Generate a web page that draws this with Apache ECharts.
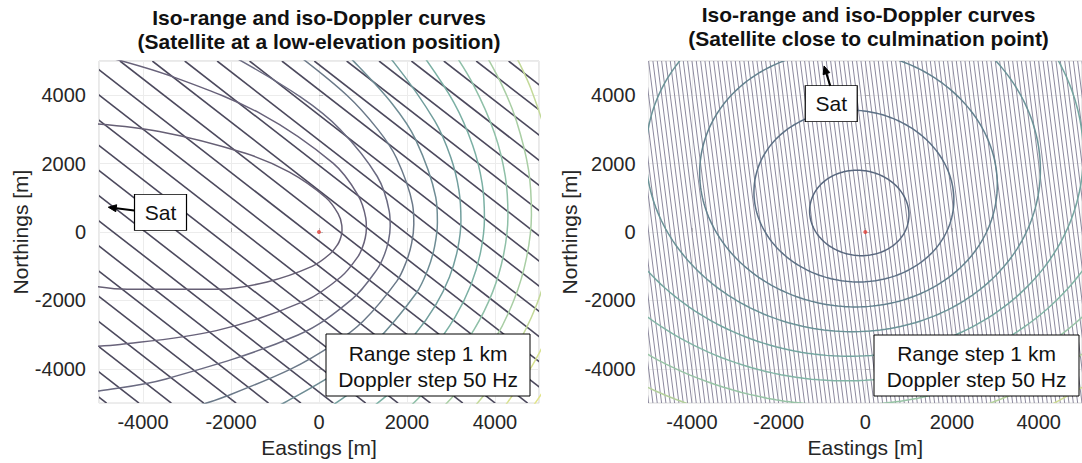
<!DOCTYPE html>
<html><head><meta charset="utf-8">
<script src="https://cdn.jsdelivr.net/npm/echarts@6/dist/echarts.min.js"></script>
<style>html,body{margin:0;padding:0;background:#fff}#c{width:1082px;height:463px}</style>
</head><body><div id="c"></div>
<script>
// ---------------- DATA (metres, local East/North) ----------------
const axisMin = -5000, axisMax = 5000;
const titles = ['Iso-range and iso-Doppler curves\n(Satellite at a low-elevation position)',
                'Iso-range and iso-Doppler curves\n(Satellite close to culmination point)'];
const xName = 'Eastings [m]', yName = 'Northings [m]';
const legendText = 'Range step 1 km\nDoppler step 50 Hz';
const satLabel = 'Sat';

// Left panel, iso-Doppler lines: Easting where each line meets Northing +5000 and Northing -5000
const leftDopplerTopX = [-14827,-14091,-13355,-12619,-11883,-11147,-10411,-9675,-8939,-8203,-7467,-6731,-5995,-5259,-4523,-3787,-3051,-2315,-1579,-843,-107,629,1365,2101,2837,3573,4309];
const leftDopplerBottomX = [-4827,-4091,-3355,-2619,-1883,-1147,-411,325,1061,1797,2533,3269,4005,4741,5477,6213,6949,7685,8421,9157,9893,10629,11365,12101,12837,13573,14309];

// Left panel, iso-range curves (1 km apart), points [E, N]
const leftRangeCurves = [
 [[-5302,3186],[-3630,2940],[-1672,2301],[-672,1751],[159,1004],[434,536],[518,199],[523,55],[510,-81],[480,-214],[431,-349],[247,-643],[-159,-1004],[-1180,-1458],[-2301,-1672],[-4361,-1674],[-5353,-1535]],
 [[-4752,5096],[-3285,4522],[-1329,3461],[319,2013],[882,1089],[1063,408],[1077,113],[1052,-167],[989,-441],[885,-717],[502,-1308],[-319,-2013],[-2333,-2881],[-4522,-3285],[-5597,-3363]],
 [[-1980,5157],[-415,3945],[476,3008],[1321,1631],[1596,613],[1618,170],[1580,-250],[1486,-662],[1328,-1076],[752,-1960],[-476,-3008],[-3476,-4293],[-4973,-4638],[-5916,-4791]],
 [[-551,5243],[633,3999],[1336,3001],[1758,2171],[2125,816],[2155,226],[2105,-333],[1979,-881],[1769,-1433],[1001,-2608],[343,-3267],[-633,-3999],[-2144,-4816],[-2831,-5108]],
 [[382,5466],[790,4989],[1667,3745],[2194,2710],[2653,1019],[2691,283],[2628,-416],[2472,-1100],[2209,-1788],[1250,-3255],[428,-4077],[-790,-4989],[-1326,-5317]],
 [[947,5978],[1705,4952],[2630,3248],[2996,2177],[3180,1221],[3226,339],[3151,-499],[2963,-1319],[2647,-2144],[2177,-2996],[1498,-3902],[513,-4886],[-392,-5601]],
 [[2329,5231],[3066,3786],[3492,2537],[3708,1423],[3760,395],[3673,-582],[3454,-1538],[3086,-2499],[2537,-3492],[1746,-4548],[1030,-5300]],
 [[2989,5392],[3501,4323],[3988,2898],[4234,1626],[4294,451],[4195,-664],[3945,-1756],[3524,-2854],[2898,-3988],[1994,-5194]],
 [[3673,5445],[4156,4303],[4484,3258],[4761,1828],[4828,507],[4717,-747],[4435,-1974],[3963,-3209],[3258,-4484],[2622,-5376]],
 [[4371,5398],[4615,4778],[4817,4187],[5112,3071],[5287,2030],[5362,564],[5238,-830],[4926,-2193],[4401,-3564],[3913,-4500],[3287,-5471]],
 [[5416,-2411],[5251,-2911],[4839,-3919],[4302,-4948],[3978,-5476]],
 [[5277,-4274],[5003,-4832],[4691,-5396]]
];

// Right panel, iso-Doppler lines: Easting at Northing +5000 and at Northing -5000
const rightDopplerTopX = [-6000,-5900,-5800,-5700,-5600,-5500,-5400,-5300,-5200,-5100,
-5000,-4900,-4800,-4700,-4600,-4500,-4400,-4300,-4200,-4100,
-4000,-3900,-3800,-3700,-3600,-3500,-3400,-3300,-3200,-3100,
-3000,-2900,-2800,-2700,-2600,-2500,-2400,-2300,-2200,-2100,
-2000,-1900,-1800,-1700,-1600,-1500,-1400,-1300,-1200,-1100,
-1000,-900,-800,-700,-600,-500,-400,-300,-200,-100,
0,100,200,300,400,500,600,700,800,900,
1000,1100,1200,1300,1400,1500,1600,1700,1800,1900,
2000,2100,2200,2300,2400,2500,2600,2700,2800,2900,
3000,3100,3200,3300,3400,3500,3600,3700,3800,3900,
4000,4100,4200,4300,4400,4500,4600,4700,4800,4900,5000];
const rightDopplerBottomX = [-5000,-4900,-4800,-4700,-4600,-4500,-4400,-4300,-4200,-4100,
-4000,-3900,-3800,-3700,-3600,-3500,-3400,-3300,-3200,-3100,
-3000,-2900,-2800,-2700,-2600,-2500,-2400,-2300,-2200,-2100,
-2000,-1900,-1800,-1700,-1600,-1500,-1400,-1300,-1200,-1100,
-1000,-900,-800,-700,-600,-500,-400,-300,-200,-100,
0,100,200,300,400,500,600,700,800,900,
1000,1100,1200,1300,1400,1500,1600,1700,1800,1900,
2000,2100,2200,2300,2400,2500,2600,2700,2800,2900,
3000,3100,3200,3300,3400,3500,3600,3700,3800,3900,
4000,4100,4200,4300,4400,4500,4600,4700,4800,4900,
5000,5100,5200,5300,5400,5500,5600,5700,5800,5900,6000];

// Right panel, iso-range closed curves (ellipse fits): centre, semi-axis toward satellite, semi-axis across, axis bearing (deg from East)
const rightRangeCx     = [-139, -263, -388, -510, -637, -756, -879, -1003, -1126];
const rightRangeCy     = [558, 1054, 1557, 2045, 2554, 3032, 3527, 4023, 4517];
const rightRangeAlong  = [1255, 2526, 3765, 4983, 6218, 7421, 8639, 9854, 11071];
const rightRangeAcross = [1139, 2292, 3412, 4522, 5630, 6735, 7840, 8943, 10047];
const rightRangeAxisDeg = [104, 104, 104, 104, 104, 104, 104, 104, 104];

// Receiver position and satellite direction annotations [E, N]
const receiverPoint = [0, 0];
const leftSatArrow  = [-4198, 630, -4789, 726];   // from box edge to arrow tip
const leftSatBox    = [-3602, 576];
const rightSatArrow = [-809, 4274, -952, 4855];
const rightSatBox   = [-786, 3752];

// ---------------- STYLE ----------------
const FONT = "'Liberation Sans', Arial, Helvetica, sans-serif";
const leftRangeColors = ['#665f75','#68627a','#6a6a81','#6b7989','#6e8c94','#719e9d','#7bb0a4','#8fc0a8','#a9cea4','#c3d999','#d7e18e','#e2e488'];
const rightRangeColors = ['#58677e','#5d7186','#63828f','#6b9398','#74a5a0','#82b5a6','#98c4a6','#b4d09d','#cddb92'];

const chart = echarts.init(document.getElementById('c'), null, {renderer: 'svg', width: 1082, height: 463});

const grids = [
  {left: 99, top: 61, width: 440, height: 345},
  {left: 648.6, top: 61, width: 440, height: 345}
];
const plainNumber = v => String(v);

function makeX(i) {
  return {
    type: 'value', gridIndex: i, min: axisMin, max: axisMax, splitNumber: 5,
    axisLine: {show: false},
    axisTick: {show: true, inside: true, length: 4, lineStyle: {color: '#b8b8b8'}},
    axisLabel: {showMinLabel: false, showMaxLabel: false, fontSize: 20, color: '#262626', fontFamily: FONT, margin: 9, formatter: plainNumber},
    splitLine: {show: true, lineStyle: {color: '#ececec', width: 1}},
    name: xName, nameLocation: 'middle', nameGap: 31,
    nameTextStyle: {fontSize: 21, color: '#262626', fontFamily: FONT}
  };
}
function makeY(i, gap) {
  return {
    type: 'value', gridIndex: i, min: axisMin, max: axisMax, splitNumber: 5,
    axisLine: {show: false},
    axisTick: {show: true, inside: true, length: 4, lineStyle: {color: '#b8b8b8'}},
    axisLabel: {showMinLabel: false, showMaxLabel: false, fontSize: 20, color: '#262626', fontFamily: FONT, margin: 13, formatter: plainNumber},
    splitLine: {show: true, lineStyle: {color: '#ececec', width: 1}},
    name: yName, nameLocation: 'middle', nameGap: gap,
    nameTextStyle: {fontSize: 21, color: '#262626', fontFamily: FONT}
  };
}

function dopplerSeries(i, tops, bottoms, color, width) {
  return {
    type: 'custom', xAxisIndex: i, yAxisIndex: i, clip: true, silent: true, z: 3,
    data: tops.map((t, k) => [t, bottoms[k]]),
    renderItem: function (params, api) {
      const p1 = api.coord([api.value(0), axisMax]);
      const p2 = api.coord([api.value(1), axisMin]);
      return {type: 'line', shape: {x1: p1[0], y1: p1[1], x2: p2[0], y2: p2[1]},
              style: {stroke: color, lineWidth: width}};
    }
  };
}

const series = [];
// left panel
series.push(dopplerSeries(0, leftDopplerTopX, leftDopplerBottomX, '#4c495d', 1.6));
leftRangeCurves.forEach((pts, k) => {
  series.push({
    type: 'line', xAxisIndex: 0, yAxisIndex: 0, data: pts, smooth: 0.35, showSymbol: false,
    clip: true, silent: true, z: 4,
    lineStyle: {color: leftRangeColors[k], width: 1.5}
  });
});
// right panel
series.push(dopplerSeries(1, rightDopplerTopX, rightDopplerBottomX, '#8c899e', 1.0));
series.push({
  type: 'custom', xAxisIndex: 1, yAxisIndex: 1, clip: true, silent: true, z: 4,
  data: rightRangeCx.map((cx, k) => [cx, rightRangeCy[k], rightRangeAlong[k], rightRangeAcross[k], rightRangeAxisDeg[k]]),
  renderItem: function (params, api) {
    const cx = api.value(0), cy = api.value(1), a = api.value(2), b = api.value(3);
    const ang = api.value(4) * Math.PI / 180;
    const pts = [];
    for (let s = 0; s <= 240; s++) {
      const t = s / 240 * 2 * Math.PI;
      const u = a * Math.cos(t), v = b * Math.sin(t);
      pts.push(api.coord([cx + u * Math.cos(ang) - v * Math.sin(ang), cy + u * Math.sin(ang) + v * Math.cos(ang)]));
    }
    return {type: 'polyline', shape: {points: pts},
            style: {stroke: rightRangeColors[params.dataIndex], fill: 'none', lineWidth: 1.5}};
  }
});

// receiver dot + "Sat" label box
function annotSeries(i, box) {
  return {
    type: 'scatter', xAxisIndex: i, yAxisIndex: i, data: [receiverPoint], symbolSize: 4,
    itemStyle: {color: '#e2403a'}, silent: true, z: 10,
    markPoint: {
      silent: true, symbol: 'rect', symbolSize: [52, 36], animation: false,
      itemStyle: {color: '#fff', borderColor: '#000', borderWidth: 1},
      label: {show: true, position: 'inside', formatter: satLabel, fontSize: 21, color: '#111', fontFamily: FONT},
      data: [{coord: box}]
    }
  };
}
// arrow pointing toward the satellite
function arrowSeries(i, arrow) {
  return {
    type: 'custom', xAxisIndex: i, yAxisIndex: i, silent: true, z: 11, clip: false,
    data: [arrow],
    renderItem: function (params, api) {
      const p1 = api.coord([api.value(0), api.value(1)]);
      const p2 = api.coord([api.value(2), api.value(3)]);
      const dx = p2[0] - p1[0], dy = p2[1] - p1[1];
      const L = Math.sqrt(dx * dx + dy * dy), ux = dx / L, uy = dy / L;
      const hl = 8, hw = 3.5;
      const bx = p2[0] - ux * hl, by = p2[1] - uy * hl;
      return {type: 'group', children: [
        {type: 'line', shape: {x1: p1[0], y1: p1[1], x2: bx, y2: by}, style: {stroke: '#000', lineWidth: 2}},
        {type: 'polygon', shape: {points: [[p2[0], p2[1]], [bx - uy * hw, by + ux * hw], [bx + uy * hw, by - ux * hw]]},
         style: {fill: '#000', stroke: '#000', lineWidth: 1}}
      ]};
    }
  };
}
series.push(annotSeries(0, leftSatBox));
series.push(annotSeries(1, rightSatBox));
series.push(arrowSeries(0, leftSatArrow));
series.push(arrowSeries(1, rightSatArrow));

const option = {
  animation: false,
  backgroundColor: '#fff',
  grid: grids.map(g => Object.assign({show: true, borderColor: '#d2d2d2', borderWidth: 1, backgroundColor: '#fff'}, g)),
  xAxis: [makeX(0), makeX(1)],
  yAxis: [makeY(0, 63), makeY(1, 69)],
  graphic: [
    {type: 'text', x: 319, y: 5, z: 50, style: {text: titles[0], align: 'center', verticalAlign: 'top',
      font: 'bold 21px ' + FONT, lineHeight: 24, fill: '#111'}},
    {type: 'text', x: 868.6, y: 2, z: 50, style: {text: titles[1], align: 'center', verticalAlign: 'top',
      font: 'bold 21px ' + FONT, lineHeight: 24, fill: '#111'}},
    {type: 'rect', z: 60, shape: {x: 326, y: 334, width: 204, height: 62}, style: {fill: '#fff', stroke: '#000', lineWidth: 1}},
    {type: 'text', z: 61, x: 428, y: 366, style: {text: legendText, align: 'center', verticalAlign: 'middle',
      font: '21px ' + FONT, lineHeight: 26, fill: '#111'}},
    {type: 'rect', z: 60, shape: {x: 874, y: 335, width: 205, height: 61}, style: {fill: '#fff', stroke: '#000', lineWidth: 1}},
    {type: 'text', z: 61, x: 976.5, y: 366, style: {text: legendText, align: 'center', verticalAlign: 'middle',
      font: '21px ' + FONT, lineHeight: 26, fill: '#111'}}
  ],
  series: series
};
chart.setOption(option);
</script>
</body></html>
